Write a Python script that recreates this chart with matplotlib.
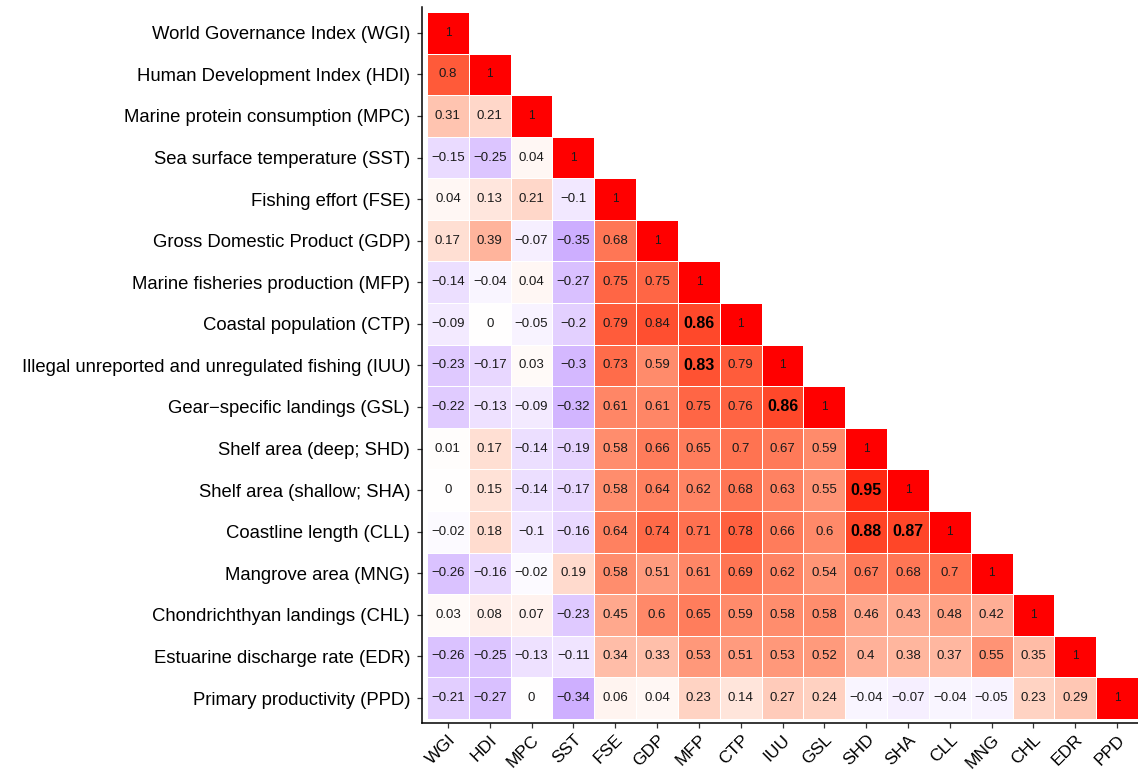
import numpy as np
import matplotlib
matplotlib.use("Agg")
import matplotlib.pyplot as plt
from matplotlib.colors import ListedColormap, Normalize

plt.rcParams['font.family'] = ['Liberation Sans', 'DejaVu Sans']

codes = ["WGI", "HDI", "MPC", "SST", "FSE", "GDP", "MFP", "CTP", "IUU",
         "GSL", "SHD", "SHA", "CLL", "MNG", "CHL", "EDR", "PPD"]
names = ["World Governance Index (WGI)",
         "Human Development Index (HDI)",
         "Marine protein consumption (MPC)",
         "Sea surface temperature (SST)",
         "Fishing effort (FSE)",
         "Gross Domestic Product (GDP)",
         "Marine fisheries production (MFP)",
         "Coastal population (CTP)",
         "Illegal unreported and unregulated fishing (IUU)",
         "Gear\u2212specific landings (GSL)",
         "Shelf area (deep; SHD)",
         "Shelf area (shallow; SHA)",
         "Coastline length (CLL)",
         "Mangrove area (MNG)",
         "Chondrichthyan landings (CHL)",
         "Estuarine discharge rate (EDR)",
         "Primary productivity (PPD)"]

# lower triangle of the correlation matrix, row by row
corr_rows = [
    [1],
    [0.8, 1],
    [0.31, 0.21, 1],
    [-0.15, -0.25, 0.04, 1],
    [0.04, 0.13, 0.21, -0.1, 1],
    [0.17, 0.39, -0.07, -0.35, 0.68, 1],
    [-0.14, -0.04, 0.04, -0.27, 0.75, 0.75, 1],
    [-0.09, 0, -0.05, -0.2, 0.79, 0.84, 0.86, 1],
    [-0.23, -0.17, 0.03, -0.3, 0.73, 0.59, 0.83, 0.79, 1],
    [-0.22, -0.13, -0.09, -0.32, 0.61, 0.61, 0.75, 0.76, 0.86, 1],
    [0.01, 0.17, -0.14, -0.19, 0.58, 0.66, 0.65, 0.7, 0.67, 0.59, 1],
    [0, 0.15, -0.14, -0.17, 0.58, 0.64, 0.62, 0.68, 0.63, 0.55, 0.95, 1],
    [-0.02, 0.18, -0.1, -0.16, 0.64, 0.74, 0.71, 0.78, 0.66, 0.6, 0.88, 0.87, 1],
    [-0.26, -0.16, -0.02, 0.19, 0.58, 0.51, 0.61, 0.69, 0.62, 0.54, 0.67, 0.68, 0.7, 1],
    [0.03, 0.08, 0.07, -0.23, 0.45, 0.6, 0.65, 0.59, 0.58, 0.58, 0.46, 0.43, 0.48, 0.42, 1],
    [-0.26, -0.25, -0.13, -0.11, 0.34, 0.33, 0.53, 0.51, 0.53, 0.52, 0.4, 0.38, 0.37, 0.55, 0.35, 1],
    [-0.21, -0.27, 0, -0.34, 0.06, 0.04, 0.23, 0.14, 0.27, 0.24, -0.04, -0.07, -0.04, -0.05, 0.23, 0.29, 1],
]

# pairs highlighted in bold (row, column)
bold_pairs = [("CTP", "MFP"), ("IUU", "MFP"), ("GSL", "IUU"),
              ("SHA", "SHD"), ("CLL", "SHD"), ("CLL", "SHA")]


# blue - white - red gradient interpolated in Lab (like ggplot's gradient2)
def srgb_to_lab(c):
    c = np.asarray(c, float)
    lin = np.where(c <= 0.04045, c / 12.92, ((c + 0.055) / 1.055) ** 2.4)
    M = np.array([[0.4124, 0.3576, 0.1805],
                  [0.2126, 0.7152, 0.0722],
                  [0.0193, 0.1192, 0.9505]])
    xyz = M @ lin / np.array([0.95047, 1.0, 1.08883])
    f = np.where(xyz > 0.008856, np.cbrt(xyz), 7.787 * xyz + 16 / 116)
    return np.array([116 * f[1] - 16, 500 * (f[0] - f[1]), 200 * (f[1] - f[2])])


def lab_to_srgb(lab):
    L, a, b = lab
    fy = (L + 16) / 116
    f = np.array([fy + a / 500, fy, fy - b / 200])
    xyz = np.where(f ** 3 > 0.008856, f ** 3, (f - 16 / 116) / 7.787)
    xyz = xyz * np.array([0.95047, 1.0, 1.08883])
    Minv = np.array([[3.2406, -1.5372, -0.4986],
                     [-0.9689, 1.8758, 0.0415],
                     [0.0557, -0.2040, 1.0570]])
    lin = np.clip(Minv @ xyz, 0, 1)
    c = np.where(lin <= 0.0031308, 12.92 * lin, 1.055 * lin ** (1 / 2.4) - 0.055)
    return np.clip(c, 0, 1)


lab_low = srgb_to_lab([0, 0, 1])
lab_mid = srgb_to_lab([1, 1, 1])
lab_high = srgb_to_lab([1, 0, 0])
cols = []
for t in np.linspace(-1, 1, 256):
    if t < 0:
        lab = lab_mid + (-t) * (lab_low - lab_mid)
    else:
        lab = lab_mid + t * (lab_high - lab_mid)
    cols.append(lab_to_srgb(lab))
cmap = ListedColormap(cols)

n = len(codes)
mat = np.full((n, n), np.nan)
for i, row in enumerate(corr_rows):
    mat[i, :len(row)] = row
masked = np.ma.masked_invalid(mat)
bold_idx = {(codes.index(r), codes.index(c)) for r, c in bold_pairs}

fig = plt.figure(figsize=(11.38, 7.71), dpi=100)
ax = fig.add_axes([422 / 1138, 48 / 771, (1138 - 422) / 1138, (771 - 48 - 7) / 771])

ax.pcolormesh(np.arange(n + 1) - 0.5, np.arange(n + 1) - 0.5, masked,
              cmap=cmap, norm=Normalize(-1, 1), edgecolors="white", linewidth=0.5)

for i, row in enumerate(corr_rows):
    for j, v in enumerate(row):
        txt = f"{v:g}".replace("-", "\u2212")
        if i == j:
            ax.text(j, i, txt, ha="center", va="center", fontsize=8.5, color="#1a1a1a")
        elif (i, j) in bold_idx:
            ax.text(j, i, txt, ha="center", va="center", fontsize=11.5,
                    fontweight="bold", color="black")
        else:
            ax.text(j, i, txt, ha="center", va="center", fontsize=9.5, color="#1a1a1a")

ax.set_xlim(-0.62, n - 0.5)
ax.set_ylim(n - 0.5 + 0.1, -0.62)
ax.set_xticks(range(n))
ax.set_xticklabels(codes, rotation=45, ha="right", rotation_mode="anchor", fontsize=12.5)
ax.set_yticks(range(n))
ax.set_yticklabels(names, fontsize=13.3)
ax.tick_params(length=3.5, width=0.9, color="#333333", pad=3)
ax.tick_params(axis="y", pad=5)
for s in ["top", "right"]:
    ax.spines[s].set_visible(False)
for s in ["left", "bottom"]:
    ax.spines[s].set_linewidth(1.1)

fig.savefig("out.png", dpi=100)
